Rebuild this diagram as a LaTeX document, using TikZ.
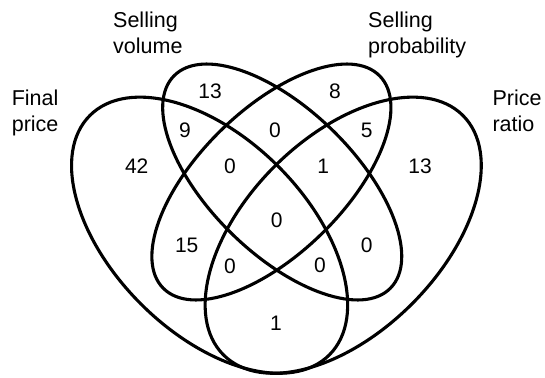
\documentclass[tikz,border=0pt]{standalone}
\usepackage{fontspec}
\setmainfont{Liberation Sans}
\begin{document}
\begin{tikzpicture}[x=1pt,y=1pt,
  setline/.style={line width=3.1pt, black},
  lbl/.style={font=\fontsize{21.5}{25.8}\selectfont, align=left, inner sep=0pt, anchor=north west},
  num/.style={font=\fontsize{21}{25}\selectfont, inner sep=0pt}]
\useasboundingbox (0,0) rectangle (545,-377);
% Final price
\draw[setline, rotate around={-45:(209.6,-235.2)}] (209.6,-235.2) ellipse [x radius=169.3, y radius=97.2];
% Price ratio
\draw[setline, rotate around={45:(343.2,-235.2)}] (343.2,-235.2) ellipse [x radius=169.3, y radius=97.2];
% Selling volume
\draw[setline, rotate around={-44.4:(282.2,-182)}] (282.2,-182) ellipse [x radius=151.6, y radius=72.2];
% Selling probability
\draw[setline, rotate around={44.4:(271.4,-182)}] (271.4,-182) ellipse [x radius=151.6, y radius=72.2];
% labels
\node[lbl] (lsv) at (113,-11.9) {Selling\\volume};
\node[lbl] (lsp) at (368,-11.9) {Selling\\probability};
\node[lbl] (lfp) at (11.6,-89.6) {Final\\price};
\node[lbl] (lpr) at (492.3,-89.6) {Price\\ratio};
% numbers
\node[num] (n1) at (210,-91.7) {13};
\node[num] (n2) at (335,-91.7) {8};
\node[num] (n3) at (185,-130) {9};
\node[num] (n4) at (275,-130) {0};
\node[num] (n5) at (366.7,-130) {5};
\node[num] (n6) at (136.7,-166) {42};
\node[num] (n7) at (230,-166) {0};
\node[num] (n8) at (323.3,-166) {1};
\node[num] (n9) at (420,-166) {13};
\node[num] (n10) at (276.7,-220) {0};
\node[num] (n11) at (186.7,-245) {15};
\node[num] (n12) at (366.7,-245) {0};
\node[num] (n13) at (230,-266.7) {0};
\node[num] (n14) at (320,-265) {0};
\node[num] (n15) at (276,-323) {1};
\end{tikzpicture}
\end{document}
